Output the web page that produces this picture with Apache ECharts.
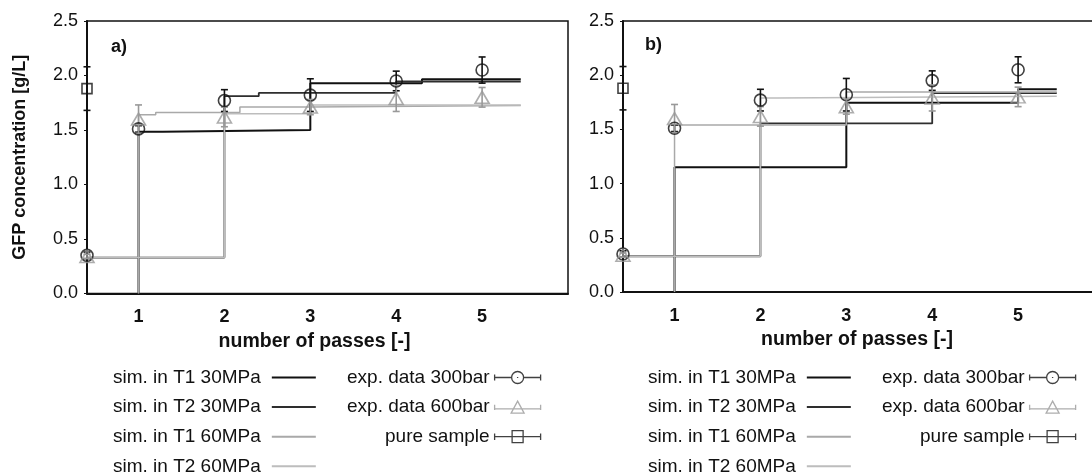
<!DOCTYPE html>
<html><head><meta charset="utf-8">
<script src="https://cdn.jsdelivr.net/npm/echarts@6/dist/echarts.min.js"></script>
<style>html,body{margin:0;padding:0;background:#fff}#c{width:1092px;height:476px}</style>
</head><body><div id="c"></div>
<script>
// ---- data ----
const passTicks = [1, 2, 3, 4, 5];
const expX = [0.4, 1, 2, 3, 4, 5];          // pass 0 drawn on the left frame
const exp300 = [0.35, 1.51, 1.77, 1.82, 1.95, 2.05];
const exp300Err = [0.03, 0.03, 0.1, 0.15, 0.09, 0.12];
const exp600 = [0.34, 1.6, 1.62, 1.71, 1.79, 1.8];
const exp600Err = [0.02, 0.13, 0.09, 0.07, 0.12, 0.09];
const pureX = [0.4];
const pureY = [1.88];
const pureErr = [0.2];

// panel a) simulated step curves
const aT1_30x = [1, 1, 1.28, 1.28, 3, 3, 4.3, 4.3, 5.45];
const aT1_30y = [0, 1.485, 1.485, 1.5, 1.5, 1.93, 1.93, 1.965, 1.965];
const aT2_30x = [0.4, 2, 2, 2.4, 2.4, 4, 4, 5.45];
const aT2_30y = [0.33, 0.33, 1.81, 1.81, 1.84, 1.84, 1.945, 1.945];
const aT1_60x = [1, 1, 1.2, 1.2, 2.18, 2.18, 3, 3, 5.45];
const aT1_60y = [0, 1.64, 1.64, 1.66, 1.66, 1.71, 1.71, 1.725, 1.725];
const aT2_60x = [0.4, 2, 2, 3, 3, 5.45];
const aT2_60y = [0.33, 0.33, 1.65, 1.65, 1.73, 1.73];

// panel b) simulated step curves
const bT1_30x = [1, 1, 3, 3, 5, 5, 5.45];
const bT1_30y = [0, 1.15, 1.15, 1.745, 1.745, 1.87, 1.87];
const bT2_30x = [0.4, 2, 2, 4, 4, 5.45];
const bT2_30y = [0.33, 0.33, 1.555, 1.555, 1.835, 1.835];
const bT1_60x = [1, 1, 3, 3, 5.45];
const bT1_60y = [0, 1.54, 1.54, 1.845, 1.845];
const bT2_60x = [0.4, 2, 2, 2.2, 2.2, 5.45];
const bT2_60y = [0.33, 0.33, 1.79, 1.79, 1.805, 1.805];

const simNames = ['sim. in T1 30MPa', 'sim. in T2 30MPa', 'sim. in T1 60MPa', 'sim. in T2 60MPa'];
const expNames = ['exp. data 300bar', 'exp. data 600bar', 'pure sample'];

// ---- build ----
const FF = '"Liberation Sans", Arial, sans-serif';
const simStyles = [
  {color: '#111', width: 2},
  {color: '#2e2e2e', width: 1.8},
  {color: '#a9a9a9', width: 1.5},
  {color: '#bdbdbd', width: 1.5}
];
const zip = (xs, ys) => xs.map((x, i) => [x, ys[i]]);

function lineSeries(idx, xs, ys, g) {
  return {
    type: 'line', name: simNames[idx], xAxisIndex: g, yAxisIndex: g,
    data: zip(xs, ys), symbol: 'none', animation: false, z: idx >= 2 ? 2 : 1,
    lineStyle: {color: simStyles[idx].color, width: simStyles[idx].width},
    itemStyle: {color: simStyles[idx].color}
  };
}
function errSeries(name, xs, ys, es, g, color) {
  return {
    type: 'custom', name: name, xAxisIndex: g, yAxisIndex: g, z: 3, silent: true, animation: false,
    encode: {x: 0, y: 1},
    data: xs.map((x, i) => [x, ys[i], es[i]]),
    renderItem: function (params, api) {
      const x = api.value(0), y = api.value(1), e = api.value(2);
      const p1 = api.coord([x, y + e]), p2 = api.coord([x, y - e]);
      const hw = 3.5;
      const st = {stroke: color, lineWidth: 1.6};
      return {type: 'group', children: [
        {type: 'line', shape: {x1: p1[0], y1: p1[1], x2: p2[0], y2: p2[1]}, style: st},
        {type: 'line', shape: {x1: p1[0] - hw, y1: p1[1], x2: p1[0] + hw, y2: p1[1]}, style: st},
        {type: 'line', shape: {x1: p2[0] - hw, y1: p2[1], x2: p2[0] + hw, y2: p2[1]}, style: st}
      ]};
    }
  };
}
function scatterSeries(name, xs, ys, g, symbol, size, color) {
  return {
    type: 'scatter', name: name, xAxisIndex: g, yAxisIndex: g, z: 4, clip: false, animation: false,
    data: zip(xs, ys), symbol: symbol, symbolSize: size,
    itemStyle: {color: 'rgba(0,0,0,0)', borderColor: color, borderWidth: 1.6}
  };
}

const series = [];
const sims = [
  [[aT1_30x, aT1_30y], [aT2_30x, aT2_30y], [aT1_60x, aT1_60y], [aT2_60x, aT2_60y]],
  [[bT1_30x, bT1_30y], [bT2_30x, bT2_30y], [bT1_60x, bT1_60y], [bT2_60x, bT2_60y]]
];
[0, 1].forEach(g => {
  sims[g].forEach((s, i) => series.push(lineSeries(i, s[0], s[1], g)));
  series.push(scatterSeries(expNames[0], expX, exp300, g, 'circle', 12, '#111'));
  series.push(scatterSeries(expNames[1], expX, exp600, g, 'triangle', [14, 12], '#999'));
  series.push(scatterSeries(expNames[2], pureX, pureY, g, 'rect', 10, '#111'));
  series.push(errSeries(expNames[0], expX, exp300, exp300Err, g, '#111'));
  series.push(errSeries(expNames[1], expX, exp600, exp600Err, g, '#999'));
  series.push(errSeries(expNames[2], pureX, pureY, pureErr, g, '#111'));
});

const grids = [
  {left: 87, top: 21, width: 481, height: 272.5},
  {left: 623, top: 21, width: 481, height: 271}
];
const xAxes = grids.map((gr, g) => ({
  type: 'value', gridIndex: g, min: 0.4, max: 6,
  axisLine: {show: true, lineStyle: {color: '#111', width: 2}},
  axisTick: {show: false}, splitLine: {show: false},
  axisLabel: {customValues: passTicks, fontFamily: FF, fontSize: 18, fontWeight: 'bold', color: '#111', margin: 15},
  name: 'number of passes [-]', nameLocation: 'middle', nameGap: 36,
  nameTextStyle: {fontFamily: FF, fontSize: 19.5, fontWeight: 'bold', color: '#111', padding: g === 0 ? [0, 26, 0, 0] : [0, 13, 0, 0]}
}));
const yAxes = grids.map((gr, g) => ({
  type: 'value', gridIndex: g, min: 0, max: 2.5, interval: 0.5,
  axisLine: {show: true, lineStyle: {color: '#111', width: 2}},
  axisTick: {show: true, length: 3, lineStyle: {color: '#111'}}, splitLine: {show: false},
  axisLabel: {fontFamily: FF, fontSize: 18, color: '#111', margin: 9, formatter: v => v.toFixed(1)},
  name: g === 0 ? 'GFP concentration [g/L]' : '', nameLocation: 'middle', nameGap: 58,
  nameTextStyle: {fontFamily: FF, fontSize: 18, fontWeight: 'bold', color: '#111'}
}));

const iconCircle = 'path://M0,3L0,9M0,6L17,6M29,6L46,6M46,3L46,9M29,6A6,6,0,1,0,17,6A6,6,0,1,0,29,6M23,5.4L23,6.6';
const iconTri = 'path://M0,3.5L0,8.5M0,7.5L46,7.5M46,3.5L46,8.5M23,0L29.5,11.5L16.5,11.5Z';
const iconRect = 'path://M0,3L0,9M0,6L46,6M46,3L46,9M17.5,0.5L28.5,0.5L28.5,11.5L17.5,11.5Z';
const expLegendData = [
  {name: expNames[0], icon: iconCircle, itemStyle: {color: 'rgba(0,0,0,0)', borderColor: '#111', borderWidth: 1.3}},
  {name: expNames[1], icon: iconTri, itemStyle: {color: 'rgba(0,0,0,0)', borderColor: '#999', borderWidth: 1.3}},
  {name: expNames[2], icon: iconRect, itemStyle: {color: 'rgba(0,0,0,0)', borderColor: '#111', borderWidth: 1.3}}
];
const simLegendData = simNames.map(n => ({name: n, icon: 'rect'}));
function simLegend(left) {
  return {orient: 'vertical', align: 'right', left: left, top: 368, height: 140, padding: 0, itemGap: 10.6,
    itemWidth: 44, itemHeight: 2, symbolKeepAspect: false,
    textStyle: {fontFamily: FF, fontSize: 19, color: '#111', lineHeight: 18, padding: [0, 6, 0, 0]},
    data: simLegendData, selectedMode: false};
}
function expLegend(left) {
  return {orient: 'vertical', align: 'right', left: left, top: 368, height: 140, padding: 0, itemGap: 10.6,
    itemWidth: 46, itemHeight: 12, symbolKeepAspect: false,
    textStyle: {fontFamily: FF, fontSize: 19, color: '#111', lineHeight: 18, padding: [0, 0, 0, 0]},
    data: expLegendData, selectedMode: false};
}

const chart = echarts.init(document.getElementById('c'), null, {renderer: 'canvas'});
chart.setOption({
  backgroundColor: '#fff',
  animation: false,
  title: [
    {text: 'a)', left: 106, top: 33, padding: 5, textStyle: {fontFamily: FF, fontSize: 18, fontWeight: 'bold', color: '#111'}},
    {text: 'b)', left: 640, top: 31, padding: 5, textStyle: {fontFamily: FF, fontSize: 18, fontWeight: 'bold', color: '#111'}}
  ],
  grid: grids.map(g => Object.assign({show: true, borderColor: '#111', borderWidth: 1.5, backgroundColor: 'transparent', outerBoundsMode: 'none', containLabel: false}, g)),
  xAxis: xAxes,
  yAxis: yAxes,
  legend: [simLegend(113), expLegend(347), simLegend(648), expLegend(882)],
  series: series
});
</script></body></html>
